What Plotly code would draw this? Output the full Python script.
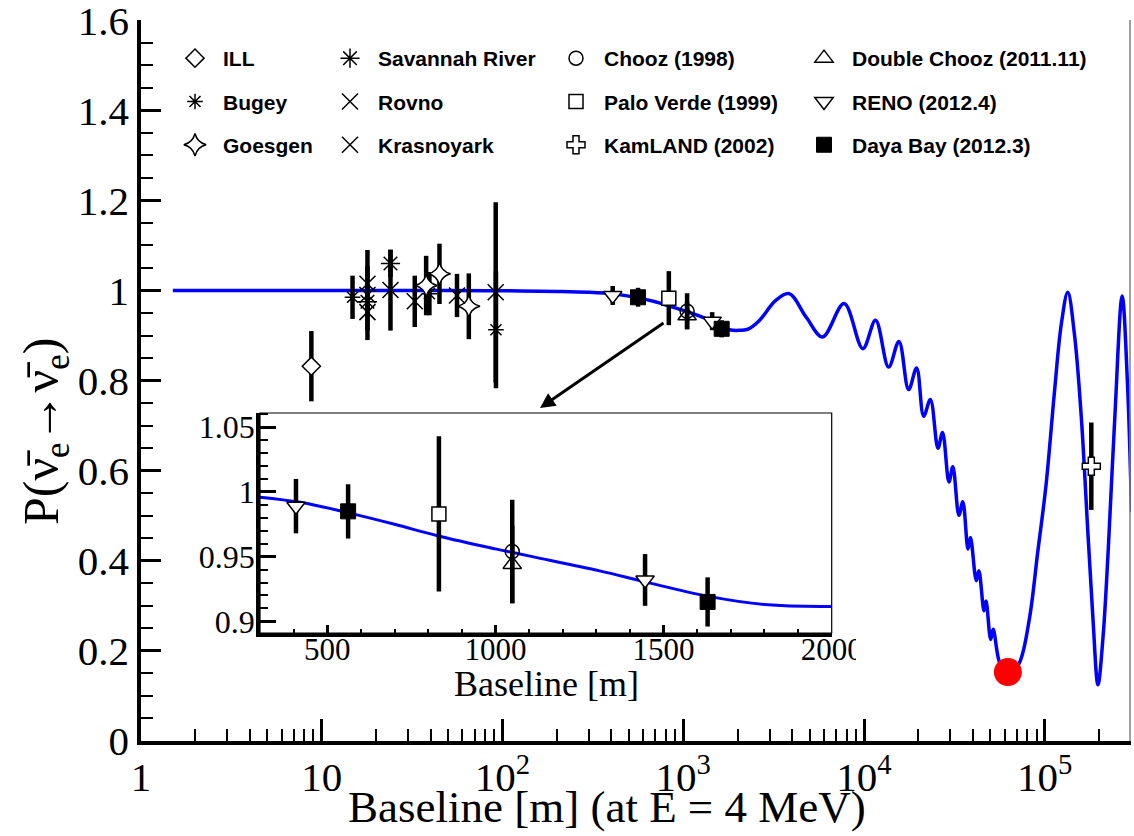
import plotly.graph_objects as go

# ---------------- data ----------------
curve_L = [1.5, 10, 50, 100, 200, 300, 420, 560, 700, 830, 1000, 1110, 1310, 1445, 1630, 1800, 2000,
           2300, 2630, 3250, 3850, 4800, 5900, 7760, 9850, 11580, 13680, 15600, 17650, 19540, 21380,
           23290, 25640, 27190, 29500, 31000, 33500, 35200, 37600, 38800, 41800, 43200, 46100, 47300,
           50200, 51800, 55900, 62000, 72300, 82100, 91400, 101600, 113200, 123400, 134000, 146000,
           159400, 173500, 184800, 196900, 210200, 224100, 243900, 267900, 287000, 302000]
curve_P = [1.0, 1.0, 1.0, 0.9995, 0.998, 0.996, 0.992, 0.984, 0.975, 0.966, 0.956, 0.950, 0.939, 0.9305,
           0.9195, 0.913, 0.9115, 0.915, 0.933, 0.978, 0.993, 0.94, 0.897, 0.971, 0.871, 0.934, 0.830,
           0.887, 0.780, 0.828, 0.721, 0.758, 0.650, 0.685, 0.575, 0.609, 0.501, 0.531, 0.426, 0.452,
           0.356, 0.378, 0.289, 0.311, 0.2255, 0.248, 0.177, 0.14, 0.173, 0.27, 0.419, 0.568, 0.776,
           0.925, 0.996, 0.902, 0.716, 0.457, 0.27, 0.125, 0.233, 0.419, 0.716, 0.988, 0.79, 0.508]

ill_L, ill_P, ill_E = [8.76], [0.832], [0.078]
bugey_L, bugey_P, bugey_E = [14.8, 39.4, 92.0], [0.985, 0.993, 0.913], [0.048, 0.048, 0.13]
goesgen_L, goesgen_P, goesgen_E = [37.8, 44.8, 65.1], [1.011, 1.037, 0.965], [0.066, 0.067, 0.073]
savannah_L, savannah_P, savannah_E = [17.9, 24.0], [0.975, 1.06], [0.037, 0.03]
rovno_L, rovno_P, rovno_E = [17.9, 17.9, 17.9, 24.0], [1.015, 0.99, 0.952, 1.001], [0.04, 0.10, 0.04, 0.09]
krasno_L, krasno_P, krasno_E = [32.7, 56.0, 91.7], [0.976, 0.989, 0.996], [0.057, 0.048, 0.2]
chooz_L, chooz_P, chooz_E = [1050], [0.954], [0.040]
pv_L, pv_P, pv_E = [832], [0.983], [0.060]
kamland_L, kamland_P, kamland_E = [180900], [0.610], [0.097]
dc_L, dc_P, dc_E = [1050], [0.944], [0.030]
reno_L, reno_P, reno_E = [407, 1445], [0.989, 0.932], [0.021, 0.020]
dayabay_L, dayabay_P, dayabay_E = [562, 1631], [0.985, 0.915], [0.021, 0.019]
highlight_L, highlight_P = [62500], [0.153]

main_xticks = [1, 10, 100, 1000, 10000, 100000]
main_xticktext = ["1", "10", "10<sup>2</sup>", "10<sup>3</sup>", "10<sup>4</sup>", "10<sup>5</sup>"]

# ---------------- figure ----------------
fig = go.Figure()
BLUE = "rgb(0,0,255)"
SERIF = "Liberation Serif"

fig.add_trace(go.Scatter(x=curve_L, y=curve_P, mode="lines", line=dict(color=BLUE, width=3.5, shape="spline", smoothing=1.0),
                         showlegend=False, hoverinfo="skip"))
fig.add_trace(go.Scatter(x=curve_L, y=curve_P, mode="lines", line=dict(color=BLUE, width=3, shape="spline", smoothing=1.0),
                         showlegend=False, xaxis="x2", yaxis="y2", hoverinfo="skip"))

def err(arr):
    return dict(type="data", array=arr, color="black", thickness=4.5, width=0)

def add_exp(name, L, P, E, marker, legend, inset=False):
    fig.add_trace(go.Scatter(x=L, y=P, error_y=err(E), mode="markers", name=name, marker=marker,
                             legend=legend, legendgroup=name))
    if inset:
        fig.add_trace(go.Scatter(x=L, y=P, error_y=err(E), mode="markers", name=name, marker=marker,
                                 showlegend=False, xaxis="x2", yaxis="y2", legendgroup=name))

bl = dict(color="black", width=1.5)
add_exp("ILL", ill_L, ill_P, ill_E, dict(symbol="diamond", size=14, color="white", line=bl), "legend")
add_exp("Bugey", bugey_L, bugey_P, bugey_E, dict(symbol="asterisk-open", size=13, color="black", line=bl), "legend")
add_exp("Goesgen", goesgen_L, goesgen_P, goesgen_E, dict(symbol="star-diamond", size=16, color="white", line=bl), "legend")
add_exp("Savannah River", savannah_L, savannah_P, savannah_E, dict(symbol="asterisk-open", size=16, color="black", line=bl), "legend2")
add_exp("Rovno", rovno_L, rovno_P, rovno_E, dict(symbol="x-thin-open", size=16, color="black", line=bl), "legend2")
add_exp("Krasnoyark", krasno_L, krasno_P, krasno_E, dict(symbol="x-thin-open", size=16, color="black", line=bl), "legend2")
add_exp("Chooz (1998)", chooz_L, chooz_P, chooz_E, dict(symbol="circle-open", size=14, color="black", line=bl), "legend3", True)
add_exp("Palo Verde (1999)", pv_L, pv_P, pv_E, dict(symbol="square", size=14, color="white", line=bl), "legend3", True)
add_exp("KamLAND (2002)", kamland_L, kamland_P, kamland_E, dict(symbol="cross", size=15, color="white", line=bl), "legend3")
add_exp("Double Chooz (2011.11)", dc_L, dc_P, dc_E, dict(symbol="triangle-up-open", size=16, color="black", line=bl), "legend4", True)
add_exp("RENO (2012.4)", reno_L, reno_P, reno_E, dict(symbol="triangle-down", size=16, color="white", line=bl), "legend4", True)
add_exp("Daya Bay (2012.3)", dayabay_L, dayabay_P, dayabay_E, dict(symbol="square", size=15, color="black", line=dict(color="black", width=1)), "legend4", True)

fig.add_trace(go.Scatter(x=highlight_L, y=highlight_P, mode="markers", marker=dict(color="red", size=28),
                         showlegend=False, hoverinfo="skip"))

# ---------------- layout ----------------
W, H = 1134, 836
ml, mr, mt, mb = 141, 3, 20, 95
PL, PB = 141, 741   # plot left / bottom in page pixels
pw, ph = W - ml - mr, H - mt - mb

def px_x(x):
    return (x - PL) / pw

def px_y(y):
    return (PB - y) / ph

legend_common = dict(font=dict(family="Liberation Sans", size=21, color="black", weight="bold"),
                     bgcolor="rgba(0,0,0,0)", borderwidth=0, tracegroupgap=13, traceorder="grouped",
                     xanchor="left", yanchor="top", itemsizing="trace", itemwidth=46)
legend_y = px_y(38)
fig.update_layout(
    width=W, height=H, margin=dict(l=ml, r=mr, t=mt, b=mb),
    paper_bgcolor="white", plot_bgcolor="white",
    legend=dict(x=px_x(167), y=legend_y, **legend_common),
    legend2=dict(x=px_x(322), y=legend_y, **legend_common),
    legend3=dict(x=px_x(548), y=legend_y, **legend_common),
    legend4=dict(x=px_x(796), y=legend_y, **legend_common),
    xaxis=dict(type="log", range=[0, 5.477], tickmode="array", tickvals=main_xticks, ticktext=main_xticktext,
               ticks="inside", ticklen=22, tickwidth=2.5, tickcolor="black",
               minor=dict(ticks="inside", ticklen=12, tickwidth=2, tickcolor="black", dtick="D1", showgrid=False),
               showline=True, linewidth=3.5, linecolor="black", showgrid=False, zeroline=False, automargin=False,
               tickfont=dict(family=SERIF, size=41, color="black"), ticklabelstandoff=-3, ticklabeloverflow="allow"),
    yaxis=dict(range=[0, 1.6005], tick0=0, dtick=0.2, ticks="inside", ticklen=20, tickwidth=2.5, tickcolor="black",
               minor=dict(ticks="inside", ticklen=12, tickwidth=2, tickcolor="black", dtick=0.05, showgrid=False),
               showline=True, linewidth=3.5, linecolor="black", showgrid=False, zeroline=False, automargin=False,
               tickfont=dict(family=SERIF, size=41, color="black"), ticklabelstandoff=0, ticklabeloverflow="allow"),
    xaxis2=dict(domain=[px_x(260), px_x(831.7)], anchor="y2", range=[300, 2000], tick0=0, dtick=500,
                ticks="inside", ticklen=8, tickwidth=2.5, tickcolor="black",
                minor=dict(ticks="inside", ticklen=4, tickwidth=2, tickcolor="black", dtick=100, showgrid=False),
                showline=True, linewidth=3.5, linecolor="black", showgrid=False, zeroline=False, automargin=False,
                tickfont=dict(family=SERIF, size=31, color="black"), ticklabelstandoff=-14),
    yaxis2=dict(domain=[px_y(633), px_y(413)], anchor="x2", range=[0.891, 1.061], tick0=0.9, dtick=0.05,
                ticks="inside", ticklen=16, tickwidth=2.5, tickcolor="black",
                minor=dict(ticks="inside", ticklen=8, tickwidth=2, tickcolor="black", dtick=0.01, showgrid=False),
                showline=True, linewidth=3.5, linecolor="black", showgrid=False, zeroline=False, automargin=False,
                tickfont=dict(family=SERIF, size=32, color="black"), ticklabelstandoff=-5),
    shapes=[
        dict(type="rect", xref="x2 domain", yref="y2 domain", x0=0, x1=1, y0=0, y1=1,
             line=dict(color="black", width=1.2), fillcolor="rgba(0,0,0,0)", layer="above"),
        dict(type="line", xref="paper", yref="paper", x0=0.999, x1=0.999, y0=0, y1=1,
             line=dict(color="gray", width=1.5)),
        dict(type="rect", xref="paper", yref="paper", x0=px_x(856), x1=px_x(885), y0=px_y(670), y1=px_y(636),
             line=dict(width=0), fillcolor="white", layer="above"),
    ],
    annotations=[
        dict(x=px_x(540), y=px_y(408), xref="paper", yref="paper", text="", showarrow=True,
             ax=125, ay=-86, arrowhead=2, arrowsize=1, arrowwidth=3, arrowcolor="black"),
        dict(x=px_x(607), y=px_y(807), xref="paper", yref="paper", text="Baseline [m] (at E = 4 MeV)",
             showarrow=False, xanchor="center", yanchor="middle", font=dict(family=SERIF, size=45, color="black")),
        dict(x=px_x(546), y=px_y(684), xref="paper", yref="paper", text="Baseline [m]",
             showarrow=False, xanchor="center", yanchor="middle", font=dict(family=SERIF, size=36, color="black")),
        dict(x=px_x(45), y=px_y(432), xref="paper", yref="paper",
             text="P(ν\u0304<sub>e</sub>→ν\u0304<sub>e</sub>)", textangle=-90,
             showarrow=False, xanchor="center", yanchor="middle", font=dict(family=SERIF, size=50, color="black")),
    ],
)

fig.write_html("out.html", config={"displayModeBar": False},
               post_script="document.body.style.margin='0';document.body.style.overflow='hidden';")
